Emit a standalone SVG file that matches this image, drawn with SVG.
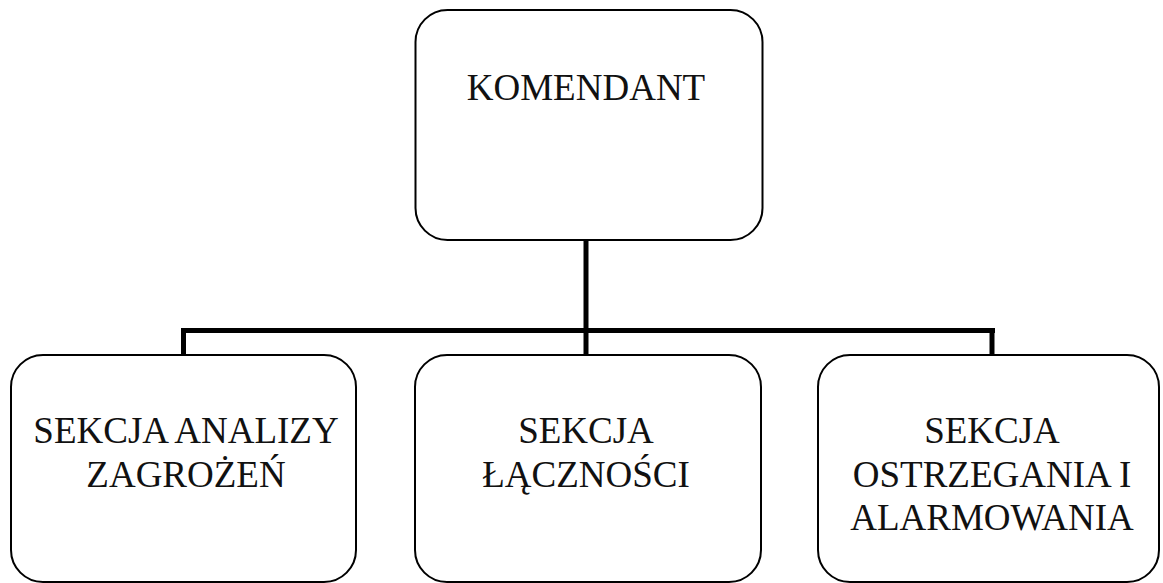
<svg xmlns="http://www.w3.org/2000/svg" width="1163" height="583" viewBox="0 0 1163 583">
<style>
.box{fill:#fff;stroke:#000;stroke-width:2}
.lbl{font-family:"Liberation Serif","Times New Roman",serif;font-size:37px;fill:#111;text-anchor:middle}
.con{stroke:#000;stroke-width:5;fill:none}
</style>
<rect width="1163" height="583" fill="#fff"/>
<g id="connectors">
<line class="con" x1="586" y1="240" x2="586" y2="355"/>
<line class="con" x1="181" y1="330.5" x2="995" y2="330.5"/>
<line class="con" x1="183.5" y1="328" x2="183.5" y2="355"/>
<line class="con" x1="992" y1="328" x2="992" y2="355"/>
</g>
<g id="komendant">
<rect class="box" x="415.5" y="10" width="347" height="230" rx="32"/>
<text class="lbl" x="586" y="100">KOMENDANT</text>
</g>
<g id="sekcja-analizy">
<rect class="box" x="11" y="355" width="345" height="227" rx="32"/>
<text class="lbl" x="186" y="443">SEKCJA ANALIZY</text>
<text class="lbl" x="186" y="487">ZAGROŻEŃ</text>
</g>
<g id="sekcja-lacznosci">
<rect class="box" x="415" y="355" width="346" height="227" rx="32"/>
<text class="lbl" x="586" y="443">SEKCJA</text>
<text class="lbl" x="586" y="487">ŁĄCZNOŚCI</text>
</g>
<g id="sekcja-ostrzegania">
<rect class="box" x="818" y="355" width="341" height="227" rx="32"/>
<text class="lbl" x="992" y="443">SEKCJA</text>
<text class="lbl" x="992" y="487">OSTRZEGANIA I</text>
<text class="lbl" x="992" y="530">ALARMOWANIA</text>
</g>
</svg>
